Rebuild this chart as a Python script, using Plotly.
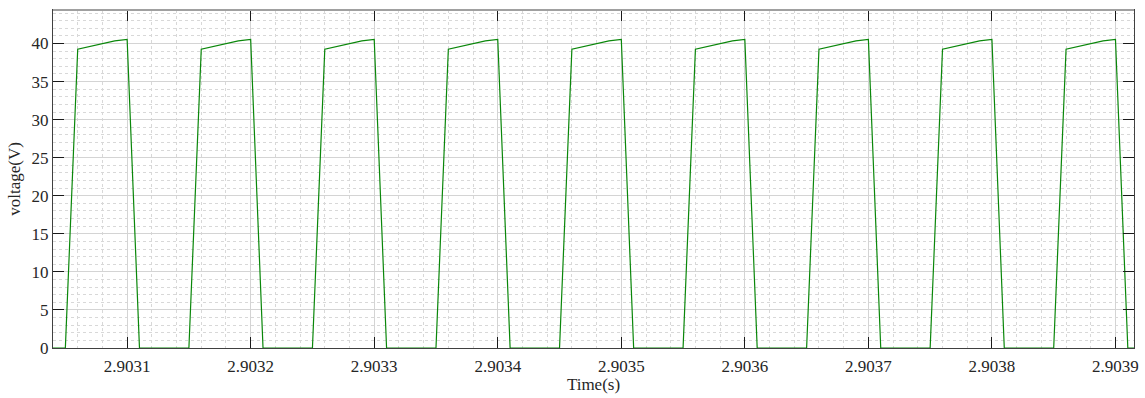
import plotly.graph_objects as go

# sample times: start and step (simulation output every 1e-5 s)
t_start = 2.90304
t_step = 0.00001

voltage = [
    0, 0,
    39.25, 39.65, 40.05, 40.35, 40.55, 0, 0, 0, 0, 0,
    39.25, 39.65, 40.05, 40.35, 40.55, 0, 0, 0, 0, 0,
    39.25, 39.65, 40.05, 40.35, 40.55, 0, 0, 0, 0, 0,
    39.25, 39.65, 40.05, 40.35, 40.55, 0, 0, 0, 0, 0,
    39.25, 39.65, 40.05, 40.35, 40.55, 0, 0, 0, 0, 0,
    39.25, 39.65, 40.05, 40.35, 40.55, 0, 0, 0, 0, 0,
    39.25, 39.65, 40.05, 40.35, 40.55, 0, 0, 0, 0, 0,
    39.25, 39.65, 40.05, 40.35, 40.55, 0, 0, 0, 0, 0,
    39.25, 39.65, 40.05, 40.35, 40.55, 0, 0,
]

x_ticks = [2.9031, 2.9032, 2.9033, 2.9034, 2.9035, 2.9036, 2.9037, 2.9038, 2.9039]
x_tick_labels = ["2.9031", "2.9032", "2.9033", "2.9034", "2.9035", "2.9036", "2.9037", "2.9038", "2.9039"]
y_ticks = [0, 5, 10, 15, 20, 25, 30, 35, 40]

x_range = [2.90304, 2.903915]
y_range = [0, 44.4]

font = dict(family="Liberation Serif, Times New Roman, serif", size=17, color="#262626")

fig = go.Figure()
fig.add_trace(go.Scatter(
    x0=t_start, dx=t_step, y=voltage, mode="lines",
    line=dict(color="#0a870a", width=1.2), showlegend=False,
))

fig.update_layout(
    width=1145, height=398,
    margin=dict(l=53, r=11, t=10, b=50),
    paper_bgcolor="white", plot_bgcolor="white",
    font=font,
)

fig.update_xaxes(
    range=x_range, tickvals=x_ticks, ticktext=x_tick_labels,
    ticks="inside", ticklen=11, tickcolor="#1a1a1a", tickwidth=1.2,
    showline=True, linecolor="#404040", linewidth=1.2, mirror="ticks",
    showgrid=True, gridcolor="#d4d4d4", gridwidth=1,
    minor=dict(dtick=0.00002, tick0=2.9031, showgrid=True, gridcolor="#d8d8d8", griddash="dot", gridwidth=1),
    title=dict(text="Time(s)", standoff=3, font=font),
    tickfont=font, zeroline=False, ticklabelstandoff=2, automargin=False,
)
fig.update_yaxes(
    range=y_range, tickvals=y_ticks,
    ticks="inside", ticklen=11, tickcolor="#1a1a1a", tickwidth=1.2,
    showline=True, linecolor="#404040", linewidth=1.2, mirror="ticks",
    showgrid=True, gridcolor="#d4d4d4", gridwidth=1,
    minor=dict(dtick=1, tick0=0, showgrid=True, gridcolor="#d8d8d8", griddash="dot", gridwidth=1),
    title=dict(text="voltage(V)", standoff=6, font=font),
    tickfont=font, zeroline=False, automargin=False,
)

# lighter top border as in the reference
fig.add_shape(type="line", xref="paper", yref="paper", x0=0, x1=1, y0=1, y1=1,
              line=dict(color="#a0a0a0", width=2))

fig.write_html("out.html", config={"displayModeBar": False},
               post_script="document.body.style.margin='0';")
